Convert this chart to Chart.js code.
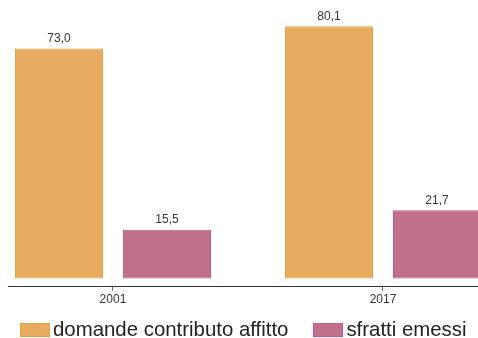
<!DOCTYPE html>
<html lang="it">
<head>
<meta charset="utf-8">
<title>Domande contributo affitto e sfratti emessi</title>
<script src="https://cdn.jsdelivr.net/npm/chart.js@4/dist/chart.umd.min.js"></script>
<style>
    html, body { margin: 0; padding: 0; background: #fff; }
    #wrap { position: relative; width: 478px; height: 338px; overflow: hidden; }
    #legend {
        position: absolute; left: 20px; top: 319px;
        display: flex; gap: 25px;
        font-family: "Liberation Sans", Arial, sans-serif; font-size: 20.4px;
        line-height: 20px; color: #222; white-space: nowrap;
    }
    #legend .item { display: flex; align-items: flex-start; }
    #legend .box { width: 30px; height: 14px; margin-top: 4px; margin-right: 3px; box-sizing: border-box; border: 1px solid; }
</style>
</head>
<body>
<div id="wrap">
    <canvas id="chart" width="478" height="338"></canvas>
    <div id="legend"></div>
</div>
<script>
// Anni e valori
const years = [2001, 2017];
const domandeContributo = [73.0, 80.1];
const sfrattiEmessi = [15.5, 21.7];
const seriesLabels = ['domande contributo affitto', 'sfratti emessi'];

const colors = [
    { fill: '#e8ab60', border: '#e49f40' },
    { fill: '#c07088', border: '#bf5a78' }
];

const toPoints = (values) => values.map((v, i) => ({ x: years[i], y: v }));
const fmt = (v) => v.toFixed(1).replace('.', ',');

// Etichette valore sopra le barre
const valueLabels = {
    id: 'valueLabels',
    afterDatasetsDraw(chart) {
        const ctx = chart.ctx;
        ctx.save();
        ctx.font = '12px "Liberation Sans", Arial, sans-serif';
        ctx.fillStyle = '#333';
        ctx.textAlign = 'center';
        ctx.textBaseline = 'alphabetic';
        chart.data.datasets.forEach((ds, di) => {
            chart.getDatasetMeta(di).data.forEach((bar, i) => {
                ctx.fillText(fmt(ds.data[i].y), bar.x, bar.y - 6.5);
            });
        });
        ctx.restore();
    }
};

const datasets = [domandeContributo, sfrattiEmessi].map((values, i) => ({
    label: seriesLabels[i],
    data: toPoints(values),
    backgroundColor: colors[i].fill,
    borderColor: colors[i].border,
    borderWidth: 1,
    borderSkipped: false,
    categoryPercentage: 0.8,
    barPercentage: 0.815
}));

new Chart(document.getElementById('chart'), {
    type: 'bar',
    data: { datasets },
    options: {
        responsive: false,
        animation: false,
        layout: { padding: { left: 8, right: 0, top: 0, bottom: 29 } },
        plugins: {
            legend: { display: false },
            tooltip: { enabled: false }
        },
        scales: {
            x: {
                type: 'linear',
                offset: false,
                min: 1994.78,
                max: 2022.63,
                afterBuildTicks: (scale) => { scale.ticks = years.map(y => ({ value: y })); },
                ticks: {
                    callback: (v) => String(v),
                    color: '#333',
                    padding: 2,
                    font: { family: '"Liberation Sans", Arial, sans-serif', size: 12 }
                },
                grid: { offset: false, drawOnChartArea: false, drawTicks: true, tickLength: 4, color: '#666' },
                border: { display: true, color: '#333', width: 1 }
            },
            y: {
                display: false,
                min: -2.54,
                max: 88.4
            }
        }
    },
    plugins: [valueLabels]
});

// Legenda in basso
const legend = document.getElementById('legend');
seriesLabels.forEach((name, i) => {
    const item = document.createElement('div');
    item.className = 'item';
    const box = document.createElement('span');
    box.className = 'box';
    box.style.background = colors[i].fill;
    box.style.borderColor = colors[i].border;
    const text = document.createElement('span');
    text.textContent = name;
    item.appendChild(box);
    item.appendChild(text);
    legend.appendChild(item);
});
</script>
</body>
</html>
